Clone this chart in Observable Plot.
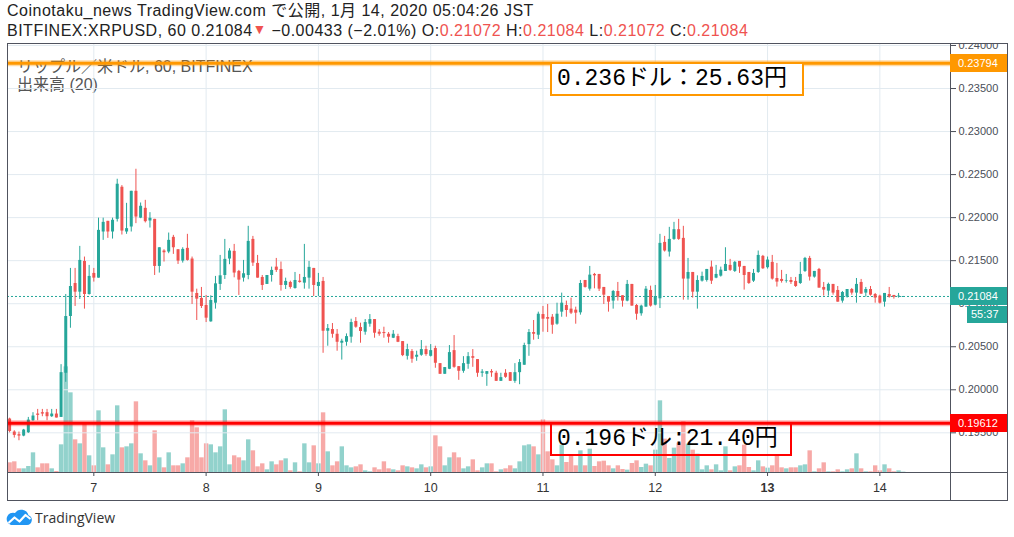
<!DOCTYPE html>
<html><head><meta charset="utf-8">
<script src="https://cdn.jsdelivr.net/npm/d3@7"></script>
<script src="https://cdn.jsdelivr.net/npm/@observablehq/plot@0.6"></script>
<style>
body{margin:0;background:#fff;}
#wrap{position:relative;width:1014px;height:537px;overflow:hidden;font-family:"Liberation Sans","Noto Sans CJK JP",sans-serif;}
.abs{position:absolute;white-space:nowrap;}
.hdr{font-size:16px;color:#222;left:7px;line-height:20px;letter-spacing:0.5px;}
.dn{color:#ef5350;}
.badge{position:absolute;left:950px;width:57px;height:18px;line-height:18px;color:#fff;font-family:"Liberation Sans",sans-serif;font-size:11px;padding-left:8px;box-sizing:border-box;}
.note{position:absolute;box-sizing:border-box;height:34px;line-height:30px;font-family:"Liberation Mono","Noto Sans CJK JP",monospace;font-size:23px;color:#000;padding-left:5px;white-space:nowrap;}
</style></head><body><div id="wrap"></div>
<script>
// ---- data: BITFINEX XRPUSD, 60-minute candles, first bar 2020-01-06 06:00 ----
const firstBar = "2020-01-06T06:00Z";
const opens = [
.19660,.19509,.19478,.19462,.19501,.19641,.19718,.19734,.19734,.19687,.19718,.19679,
.20192,.20851,.21235,.21134,.21491,.21107,.21352,.21297,.21833,.21957,.21833,.21980,
.22353,.21833,.21891,.22306,.21994,.22108,.21961,.21980,.21433,.21612,.21600,.21771,
.21627,.21495,.21643,.21519,.21119,.21061,.20979,.20789,.21006,.21224,.21328,.21519,
.21608,.21375,.21297,.21328,.21747,.21468,.21305,.21224,.21328,.21425,.21398,.21212,
.21247,.21177,.21262,.21239,.21297,.21410,.21200,.21259,.20680,.20700,.20645,.20541,
.20552,.20611,.20793,.20723,.20669,.20762,.20816,.20669,.20665,.20645,.20599,.20618,
.20560,.20389,.20444,.20378,.20401,.20467,.20389,.20479,.20304,.20180,.20238,.20455,
.20269,.20215,.20296,.20385,.20351,.20192,.20180,.20211,.20192,.20098,.20192,.20199,
.20098,.20199,.20285,.20525,.20665,.20634,.20874,.20839,.20843,.20762,.20902,.20979,
.20937,.20925,.20894,.21270,.21169,.21340,.21340,.21189,.21084,.21030,.21142,.21092,
.21030,.21224,.20979,.20883,.20960,.21154,.20983,.21057,.21712,.21600,.21747,.21860,
.21759,.21286,.21363,.21134,.21262,.21270,.21425,.21297,.21320,.21375,.21445,.21375,
.21491,.21433,.21363,.21262,.21363,.21550,.21418,.21480,.21293,.21282,.21263,.21270,
.21259,.21235,.21375,.21526,.21309,.21398,.21189,.21146,.21224,.21154,.21030,.21076,
.21165,.21123,.21247,.21123,.21165,.21107,.21088,.21018,.21107,.21096,.21080,.21072];
const highs = [
.19670,.19524,.19509,.19540,.19679,.19734,.19772,.19772,.19772,.19772,.19772,.20292,
.21107,.21410,.21410,.21666,.21542,.21445,.21410,.21994,.21994,.21957,.21994,.22446,
.22372,.22166,.22306,.22562,.22170,.22201,.22058,.21980,.21650,.21627,.21821,.21794,
.21627,.21650,.21806,.21542,.21169,.21189,.21096,.21092,.21317,.21561,.21747,.21639,
.21689,.21387,.21503,.21899,.21782,.21561,.21328,.21328,.21425,.21526,.21484,.21297,
.21262,.21363,.21340,.21689,.21491,.21410,.21352,.21305,.20758,.20770,.20700,.20587,
.20649,.20820,.20839,.20774,.20816,.20874,.20816,.20700,.20727,.20665,.20688,.20645,
.20560,.20529,.20467,.20448,.20572,.20506,.20525,.20506,.20304,.20258,.20514,.20630,
.20269,.20385,.20432,.20467,.20351,.20234,.20211,.20234,.20215,.20192,.20234,.20199,
.20304,.20351,.20541,.20700,.20805,.20902,.20968,.20991,.20874,.21006,.21123,.21030,
.21065,.20960,.21270,.21270,.21433,.21352,.21340,.21189,.21084,.21154,.21247,.21092,
.21270,.21224,.20991,.20983,.21200,.21204,.21212,.21806,.21782,.21887,.21945,.21980,
.21899,.21526,.21363,.21324,.21367,.21398,.21495,.21445,.21425,.21650,.21515,.21491,
.21491,.21433,.21363,.21398,.21612,.21561,.21542,.21561,.21468,.21387,.21340,.21305,
.21305,.21480,.21538,.21550,.21375,.21410,.21247,.21239,.21224,.21200,.21142,.21165,
.21177,.21293,.21282,.21189,.21200,.21119,.21099,.21119,.21189,.21096,.21119,.21084];
const lows = [
.19500,.19439,.19408,.19454,.19493,.19633,.19641,.19687,.19641,.19679,.19672,.19679,
.20087,.20715,.20968,.21049,.20937,.21099,.21251,.21297,.21736,.21759,.21751,.21949,
.21798,.21806,.21833,.21930,.21988,.21938,.21879,.21328,.21356,.21484,.21581,.21573,
.21456,.21472,.21495,.20991,.20805,.20944,.20781,.20785,.20937,.21154,.21282,.21453,
.21301,.21096,.21251,.21278,.21433,.21297,.21154,.21224,.21251,.21363,.21146,.21165,
.21169,.21169,.21239,.21169,.21169,.21084,.21084,.20424,.20506,.20599,.20448,.20345,
.20506,.20541,.20715,.20541,.20634,.20727,.20599,.20622,.20599,.20541,.20595,.20548,
.20385,.20345,.20308,.20331,.20389,.20389,.20381,.20250,.20180,.20180,.20234,.20250,
.20110,.20192,.20238,.20261,.20145,.20145,.20040,.20145,.20098,.20098,.20133,.20098,
.20075,.20059,.20285,.20389,.20576,.20584,.20669,.20665,.20645,.20750,.20843,.20843,
.20874,.20762,.20867,.21181,.21146,.21173,.21142,.20991,.20902,.20937,.21030,.20960,
.21022,.20972,.20808,.20855,.20960,.20960,.20975,.20944,.21600,.21542,.21736,.21736,
.21041,.21041,.21065,.20937,.21251,.21251,.21224,.21290,.21309,.21375,.21375,.21363,
.21352,.21158,.21224,.21247,.21352,.21398,.21402,.21274,.21193,.21239,.21239,.21224,
.21189,.21224,.21363,.21263,.21297,.21181,.21088,.21088,.21099,.21018,.21006,.21065,
.21099,.21006,.21111,.21076,.21088,.21006,.20995,.20960,.21065,.21053,.21065,.21072];
const closes = [
.19516,.19470,.19462,.19532,.19648,.19695,.19703,.19718,.19687,.19718,.19672,.20199,
.20851,.21200,.21134,.21503,.21107,.21317,.21297,.21852,.21945,.21833,.21969,.22388,
.21844,.21872,.22306,.22007,.22132,.21953,.21992,.21433,.21650,.21592,.21736,.21650,
.21495,.21631,.21503,.21134,.21053,.20968,.20832,.21037,.21231,.21324,.21515,.21612,
.21356,.21274,.21348,.21724,.21472,.21297,.21212,.21328,.21387,.21387,.21212,.21259,
.21189,.21270,.21247,.21305,.21422,.21212,.21247,.20680,.20711,.20645,.20552,.20564,
.20618,.20781,.20727,.20677,.20781,.20816,.20657,.20645,.20653,.20611,.20645,.20552,
.20397,.20467,.20355,.20401,.20467,.20409,.20455,.20308,.20180,.20258,.20432,.20261,
.20215,.20304,.20385,.20366,.20192,.20207,.20211,.20196,.20098,.20141,.20145,.20098,
.20199,.20316,.20514,.20665,.20645,.20878,.20820,.20820,.20750,.20878,.21006,.20921,
.20890,.20890,.21235,.21189,.21332,.21324,.21169,.21099,.21018,.21142,.21076,.21030,
.21224,.20972,.20878,.20972,.21169,.20972,.21084,.21701,.21612,.21747,.21860,.21747,
.21286,.21363,.21134,.21270,.21317,.21398,.21262,.21340,.21390,.21456,.21387,.21480,
.21425,.21328,.21235,.21352,.21561,.21406,.21507,.21286,.21251,.21259,.21270,.21247,
.21200,.21340,.21526,.21309,.21375,.21181,.21158,.21224,.21123,.21018,.21130,.21165,
.21123,.21224,.21111,.21165,.21099,.21065,.21006,.21119,.21076,.21076,.21088,.21084];
const volumes = [
29,32,11,11,18,59,14,26,26,11,3,83,
317,239,98,86,146,50,20,185,74,23,53,200,
74,77,86,212,56,35,20,125,44,14,59,20,
20,26,44,155,134,44,86,83,59,77,188,23,
50,44,35,98,65,17,26,8,32,23,35,41,
5,29,2,86,29,80,26,179,62,20,32,77,
20,14,17,23,5,2,14,8,32,11,8,5,
20,17,14,11,23,14,17,110,77,20,44,59,
44,11,17,38,5,14,26,26,2,8,11,20,
11,32,80,83,77,53,158,62,38,20,82,30,
50,20,65,20,70,18,32,34,20,11,20,9,
7,27,35,15,25,20,67,215,100,42,73,88,
152,85,67,55,8,20,8,23,5,77,5,17,
20,82,15,5,35,17,13,20,52,14,11,14,
14,20,23,65,2,11,29,2,2,8,2,8,
11,56,11,2,2,20,5,23,11,2,5,1];
const dayLabels = [7,8,9,10,11,12,13,14];          // January 2020
const priceTicks = [0.195,0.200,0.205,0.210,0.215,0.220,0.225,0.230,0.235,0.240];
const lastPrice = 0.21084, lastOpen = 0.21072, lastHigh = 0.21084, lastLow = 0.21072;
const change = -0.00433, changePct = -2.01;
const levelHigh = 0.23794, levelLow = 0.19612;
const notes = [
  {level: 0.23794, text: "0.236ドル：25.63円", color: "#ff9800", fill: "#fff"},
  {level: 0.19612, text: "0.196ドル:21.40円",  color: "#ff0000", fill: "transparent"}
];
const noteTime = "2020-01-11T01:36Z";
const viewStart = "2020-01-06T05:33Z", viewEnd = "2020-01-14T15:06Z";
const priceView = [0.19039, 0.24023];
const volumeView = [0, 1287];

// ---- build ----
const UP = "#26a69a", DOWN = "#ef5350";
const W = 1014, H = 458, TOP = 43;
const margins = {marginLeft: 7, marginRight: 64, marginTop: 0, marginBottom: 29};
const t0 = new Date(firstBar).getTime();
const candles = opens.map((o, i) => ({
  time: new Date(t0 + i * 3600e3), open: o, high: highs[i], low: lows[i],
  close: closes[i], volume: volumes[i], color: closes[i] >= o ? UP : DOWN
}));
const xDomain = [new Date(viewStart), new Date(viewEnd)];
const dayDates = dayLabels.map(d => new Date(Date.UTC(2020, 0, d)));
const wrap = document.getElementById("wrap");

function place(el, top, z) {
  el.style.position = "absolute"; el.style.left = "0px"; el.style.top = top + "px"; el.style.zIndex = z;
  wrap.appendChild(el); return el;
}

// header
const h1 = document.createElement("div");
h1.className = "abs hdr"; h1.style.top = "1px";
h1.textContent = "Coinotaku_news TradingView.com で公開, 1月 14, 2020 05:04:26 JST";
wrap.appendChild(h1);
const h2 = document.createElement("div");
h2.className = "abs hdr"; h2.style.top = "21px";
const f5 = d3.format(".5f");
h2.innerHTML = `BITFINEX:XRPUSD, 60 ${f5(lastPrice)}<span class="dn" style="font-size:14px;position:relative;top:-2px;letter-spacing:0">▼</span> −${f5(-change)} (−${(-changePct).toFixed(2)}%) O:<span class="dn">${f5(lastOpen)}</span> H:<span class="dn">${f5(lastHigh)}</span> L:<span class="dn">${f5(lastLow)}</span> C:<span class="dn">${f5(lastPrice)}</span>`;
wrap.appendChild(h2);

// volume layer
const volPlot = Plot.plot({
  width: W, height: H, ...margins,
  style: {background: "#fff"},
  x: {type: "utc", domain: xDomain, axis: null},
  y: {domain: volumeView, axis: null},
  color: {type: "identity"},
  marks: [
    Plot.ruleX(candles, {x: "time", y1: 0, y2: "volume", stroke: "color", strokeOpacity: 0.5, strokeWidth: 4.4, clip: true})
  ]
});
place(volPlot, TOP, 1);

// legend text inside pane
const lg1 = document.createElement("div");
lg1.className = "abs"; lg1.style.cssText += "left:17px;top:53px;font-size:16px;color:#555;z-index:2;";
lg1.textContent = "リップル／米ドル, 60, BITFINEX";
wrap.appendChild(lg1);
const lg2 = document.createElement("div");
lg2.className = "abs"; lg2.style.cssText += "left:17px;top:71px;font-size:16px;color:#555;z-index:2;";
lg2.textContent = "出来高 (20)";
wrap.appendChild(lg2);

// price layer
const gridColor = "#e2eaf0";
const pricePlot = Plot.plot({
  width: W, height: H, ...margins,
  style: {background: "transparent", fontFamily: "Liberation Sans, sans-serif", fontSize: "11px", color: "#4a4e58"},
  x: {type: "utc", domain: xDomain, ticks: dayDates, tickFormat: d => String(d.getUTCDate()), tickSize: 4, tickPadding: 7, label: null},
  y: {domain: priceView, ticks: priceTicks, tickFormat: d3.format(".5f"), tickSize: 5, tickPadding: 3, axis: "right", label: null},
  color: {type: "identity"},
  marks: [
    Plot.ruleY(priceTicks, {stroke: gridColor, strokeWidth: 1}),
    Plot.ruleX(dayDates, {stroke: gridColor, strokeWidth: 1}),
    Plot.ruleY([lastPrice], {stroke: UP, strokeWidth: 1, strokeDasharray: "2,2"}),
    Plot.ruleX(candles, {x: "time", y1: "low", y2: "high", stroke: "color", strokeWidth: 1, clip: true}),
    Plot.ruleX(candles, {x: "time", y1: "open", y2: "close", stroke: "color", strokeWidth: 3, clip: true}),
    Plot.ruleY([levelHigh], {stroke: "#ff9800", strokeWidth: 6, strokeOpacity: 0.35}),
    Plot.ruleY([levelHigh], {stroke: "#ff9800", strokeWidth: 3}),
    Plot.ruleY([levelLow], {stroke: "#ff0000", strokeWidth: 6, strokeOpacity: 0.3}),
    Plot.ruleY([levelLow], {stroke: "#ff0000", strokeWidth: 3})
  ]
});
// x tick labels a bit larger; week start (13) bold
pricePlot.querySelectorAll("g[aria-label^='x-axis'] text").forEach(t => {
  t.setAttribute("font-size", "12.5"); t.style.fontSize = "12.5px"; t.setAttribute("fill", "#333");
  if (t.textContent === "13") t.setAttribute("font-weight", "bold");
});
place(pricePlot, TOP, 3);
pricePlot.style.background = "transparent";

const xs = pricePlot.scale("x"), ys = pricePlot.scale("y");

// annotation boxes
notes.forEach(n => {
  const d = document.createElement("div");
  d.className = "note";
  d.style.left = xs.apply(new Date(noteTime)) + "px";
  d.style.top = (TOP + ys.apply(n.level) - 1) + "px";
  d.style.border = `2px solid ${n.color}`;
  d.style.background = n.fill;
  d.style.paddingRight = n.fill === "transparent" ? "12px" : "15px";
  d.style.zIndex = 4;
  d.textContent = n.text;
  wrap.appendChild(d);
});

// frame and pane dividers
const frame = document.createElement("div");
frame.style.cssText = "position:absolute;left:7px;top:43px;width:1001px;height:458px;border:1px solid #50535e;box-sizing:border-box;z-index:5;";
wrap.appendChild(frame);
const vdiv = document.createElement("div");
vdiv.style.cssText = `position:absolute;left:${W - margins.marginRight}px;top:43px;width:1px;height:458px;background:#50535e;z-index:5;`;
wrap.appendChild(vdiv);
const hdiv = document.createElement("div");
hdiv.style.cssText = `position:absolute;left:7px;top:${TOP + H - margins.marginBottom}px;width:1001px;height:1px;background:#50535e;z-index:5;`;
wrap.appendChild(hdiv);

// price badges on right axis
function badge(value, bg, label) {
  const b = document.createElement("div");
  b.className = "badge";
  b.style.background = bg;
  b.style.top = (TOP + ys.apply(value) - 9) + "px";
  b.style.zIndex = 6;
  b.textContent = label;
  wrap.appendChild(b);
  return b;
}
badge(levelHigh, "#ff9800", f5(levelHigh));
badge(lastPrice, UP, f5(lastPrice));
badge(levelLow, "#ff0000", f5(levelLow));
const tb = document.createElement("div");
tb.className = "badge";
tb.style.cssText += `left:967px;width:40px;background:${UP};top:${TOP + ys.apply(lastPrice) + 10}px;z-index:6;padding-left:4px;height:17px;line-height:17px;`;
tb.textContent = "55:37";
wrap.appendChild(tb);

// TradingView logo
const logo = document.createElement("div");
logo.style.cssText = "position:absolute;left:6px;top:507px;display:flex;align-items:center;gap:2px;font-family:'Open Sans','Liberation Sans',sans-serif;font-size:14px;color:#333;";
logo.innerHTML = `<svg width="27" height="20" viewBox="0 0 27 20"><path d="M5 18 H21 A5 5 0 0 0 22.5 8.3 A7.5 7.5 0 0 0 9 6 A6 6 0 0 0 5 18 Z" fill="#2196f3"/><polyline points="2.5,16 8.5,10.5 13.5,14.5 19.5,8 24.5,12" stroke="#fff" stroke-width="2.2" fill="none" stroke-linejoin="round"/></svg><span>TradingView</span>`;
wrap.appendChild(logo);
</script></body></html>
